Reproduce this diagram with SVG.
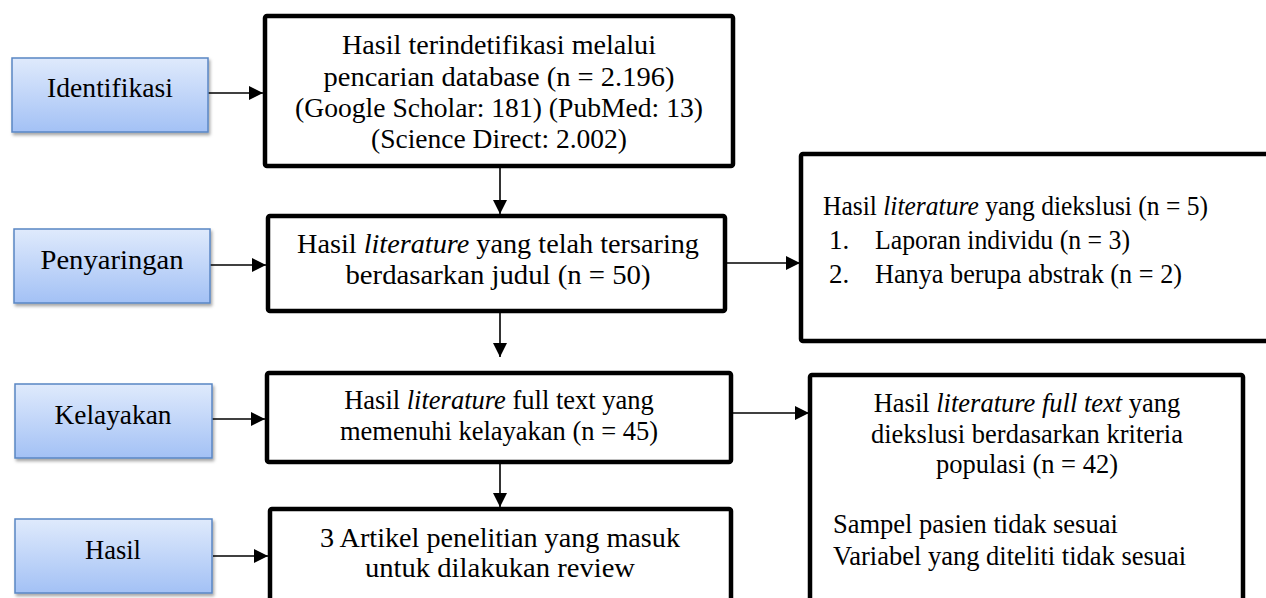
<svg xmlns="http://www.w3.org/2000/svg" width="1266" height="598" viewBox="0 0 1266 598">
<style>
.lbl{fill:url(#blue);stroke:#5a86c4;stroke-width:1.5;filter:url(#sh)}
.box{fill:#fff;stroke:#000;stroke-width:4.5}
.cam{font-family:"Liberation Serif","Times New Roman",serif;font-size:27px;fill:#000}
.tnr{font-family:"Liberation Serif","Times New Roman",serif;font-size:26.5px;fill:#000}
.c{text-anchor:middle}
.i{font-style:italic}
.con{stroke:#000;stroke-width:1.6;fill:none;marker-end:url(#ah)}
</style>
<defs>
<linearGradient id="blue" x1="0" y1="0" x2="0" y2="1">
<stop offset="0" stop-color="#dfeafc"/>
<stop offset="1" stop-color="#a3c1f5"/>
</linearGradient>
<filter id="sh" x="-10%" y="-10%" width="125%" height="130%">
<feDropShadow dx="1.5" dy="2.5" stdDeviation="1.5" flood-color="#000" flood-opacity="0.35"/>
</filter>
<marker id="ah" markerUnits="userSpaceOnUse" markerWidth="14" markerHeight="14" refX="14" refY="7" orient="auto">
<path d="M0,0 L14,7 L0,14 z" fill="#000"/>
</marker>
</defs>

<g id="connectors">
<line class="con" x1="208" y1="93" x2="263" y2="93"/>
<line class="con" x1="210" y1="265" x2="266" y2="265"/>
<line class="con" x1="212" y1="419" x2="265" y2="419"/>
<line class="con" x1="213" y1="556" x2="268" y2="556"/>
<line class="con" x1="500" y1="168" x2="500" y2="214"/>
<line class="con" x1="500" y1="313" x2="500" y2="357"/>
<line class="con" x1="500" y1="464" x2="500" y2="507"/>
<line class="con" x1="727" y1="263" x2="800" y2="263"/>
<line class="con" x1="733" y1="413" x2="809" y2="413"/>
</g>

<g id="identifikasi">
<rect class="lbl" x="12" y="58" width="196" height="74"/>
<text class="cam c" x="110" y="97" textLength="126" lengthAdjust="spacingAndGlyphs">Identifikasi</text>
</g>
<g id="penyaringan">
<rect class="lbl" x="14" y="229" width="196" height="74"/>
<text class="cam c" x="112" y="269" textLength="143" lengthAdjust="spacingAndGlyphs">Penyaringan</text>
</g>
<g id="kelayakan">
<rect class="lbl" x="15" y="384" width="197" height="74"/>
<text class="cam c" x="113" y="424" textLength="117" lengthAdjust="spacingAndGlyphs">Kelayakan</text>
</g>
<g id="hasil">
<rect class="lbl" x="15" y="519" width="197" height="74"/>
<text class="cam c" x="113" y="559" textLength="56" lengthAdjust="spacingAndGlyphs">Hasil</text>
</g>

<g id="box-identifikasi">
<rect class="box" x="265" y="16" width="468" height="150" rx="2"/>
<text class="cam c" x="499" y="54" textLength="314" lengthAdjust="spacingAndGlyphs">Hasil terindetifikasi melalui</text>
<text class="cam c" x="499" y="86" textLength="351" lengthAdjust="spacingAndGlyphs">pencarian database (n = 2.196)</text>
<text class="cam c" x="499" y="117" textLength="408" lengthAdjust="spacingAndGlyphs">(Google Scholar: 181) (PubMed: 13)</text>
<text class="cam c" x="499" y="148" textLength="256" lengthAdjust="spacingAndGlyphs">(Science Direct: 2.002)</text>
</g>

<g id="box-penyaringan">
<rect class="box" x="268" y="216" width="457" height="95" rx="2"/>
<text class="cam c" x="498" y="253" textLength="402" lengthAdjust="spacingAndGlyphs">Hasil <tspan class="i">literature</tspan> yang telah tersaring</text>
<text class="cam c" x="498" y="284" textLength="305" lengthAdjust="spacingAndGlyphs">berdasarkan judul (n = 50)</text>
</g>

<g id="box-eksklusi-1">
<rect class="box" x="801" y="154" width="500" height="187" rx="2"/>
<text class="cam" x="823" y="215" textLength="385" lengthAdjust="spacingAndGlyphs">Hasil <tspan class="i">literature</tspan> yang diekslusi (n = 5)</text>
<text class="cam" x="829" y="249">1.</text>
<text class="cam" x="875" y="249" textLength="255" lengthAdjust="spacingAndGlyphs">Laporan individu (n = 3)</text>
<text class="cam" x="829" y="283">2.</text>
<text class="cam" x="875" y="283" textLength="307" lengthAdjust="spacingAndGlyphs">Hanya berupa abstrak (n = 2)</text>
</g>

<g id="box-kelayakan">
<rect class="box" x="267" y="373" width="464" height="89" rx="2"/>
<text class="tnr c" x="499" y="409">Hasil <tspan class="i">literature</tspan> full text yang</text>
<text class="tnr c" x="499" y="440">memenuhi kelayakan (n = 45)</text>
</g>

<g id="box-eksklusi-2">
<rect class="box" x="810" y="375" width="433" height="260" rx="2"/>
<text class="tnr c" x="1027" y="412">Hasil <tspan class="i">literature full text</tspan> yang</text>
<text class="tnr c" x="1027" y="443">diekslusi berdasarkan kriteria</text>
<text class="tnr c" x="1027" y="473">populasi (n = 42)</text>
<text class="tnr" x="833" y="533">Sampel pasien tidak sesuai</text>
<text class="tnr" x="833" y="565">Variabel yang diteliti tidak sesuai</text>
</g>

<g id="box-hasil">
<rect class="box" x="270" y="509" width="461" height="120" rx="2"/>
<text class="cam c" x="500" y="547" textLength="360" lengthAdjust="spacingAndGlyphs">3 Artikel penelitian yang masuk</text>
<text class="cam c" x="500" y="577" textLength="270" lengthAdjust="spacingAndGlyphs">untuk dilakukan review</text>
</g>
</svg>
